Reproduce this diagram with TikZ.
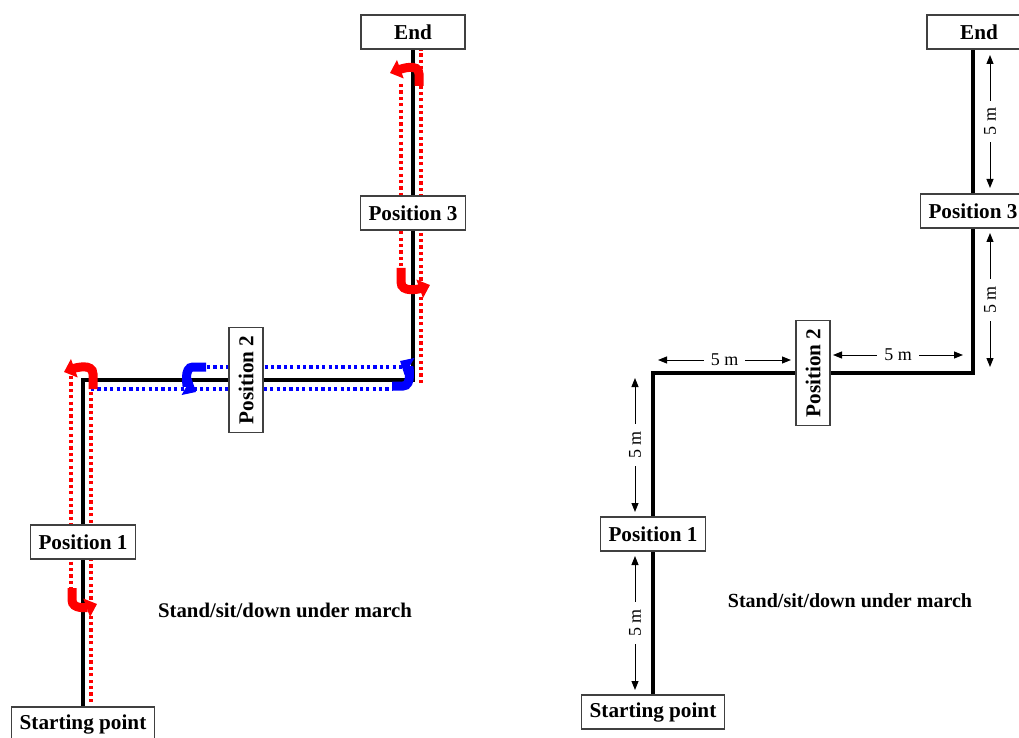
\documentclass[tikz,border=0pt]{standalone}
\usepackage{fontspec}
\setmainfont{Liberation Serif}
\usetikzlibrary{arrows.meta}

\begin{document}
\begin{tikzpicture}[x=0.5pt,y=-0.5pt,>={Triangle[length=4.5pt,width=3.5pt]},
        box/.style={draw=black!75,fill=white,line width=.6pt,minimum height=17pt,minimum width=52pt,inner xsep=4pt,font=\fontsize{10.6}{12}\selectfont\bfseries},
        track/.style={line width=2pt},
        reddot/.style={red,line width=1.6pt,dash pattern=on 1.6pt off 1.6pt},
        bluedot/.style={blue,line width=1.6pt,dash pattern=on 1.6pt off 1.6pt},
        uturn/.style={line width=4.5pt,-{Triangle[length=5.5pt,width=9.5pt]}},
        dim/.style={<->,line width=.5pt},
        dimlabel/.style={fill=white,inner xsep=3.5pt,inner ysep=1pt,font=\fontsize{9}{10}\selectfont}]
        \useasboundingbox (0,0) rectangle (1019,738);

        % walking lines (left)
        \draw[reddot] (71,376)--(71,590);
        \draw[reddot] (91,702)--(91,389);
        \draw[bluedot] (91,389)--(393,389);
        \draw[bluedot] (207,367)--(405,367);
        \draw[reddot] (421,383)--(421,50);
        \draw[reddot] (401,84)--(401,268);

        % left layout
        \node[box] (s1) at (83,724) {Starting point};
        \node[box] (p1) at (83,542) {Position 1};
        \node[box,rotate=90] (p2) at (246,380) {Position 2};
        \node[box] (p3) at (413,213) {Position 3};
        \node[box] (e1) at (413,32) {End};
        \coordinate (c1) at (83,380);
        \coordinate (c2) at (413,380);
        \draw[track] (s1)--(p1)--(c1)--(p2)--(c2)--(p3)--(e1);
        \node[font=\fontsize{10.4}{12}\selectfont\bfseries] (m1) at (285,610) {Stand/sit/down under march};

        % turns
        \draw[uturn,red] (72,588)--(72,600) to[out=-90,in=200] (97,604);
        \draw[uturn,red] (93,389)--(93,374) to[out=90,in=20] (64,372);
        \draw[uturn,red] (419,86)--(419,74) to[out=90,in=20] (390,73);
        \draw[uturn,red] (401,268)--(401,282) to[out=-90,in=200] (430,285);
        \draw[uturn,blue] (206,367)--(193,367) to[out=180,in=150] (196,392);
        \draw[uturn,blue] (392,386)--(403,386) to[out=0,in=-30] (400,361);

        % right layout
        \node[box] (s2) at (653,712) {Starting point};
        \node[box] (p1r) at (653,534) {Position 1};
        \node[box,rotate=90] (p2r) at (813,373) {Position 2};
        \node[box] (p3r) at (973,211) {Position 3};
        \node[box] (e2) at (979,32) {End};
        \coordinate (c3) at (653,373);
        \coordinate (c4) at (973,373);
        \draw[track] (s2)--(p1r)--(c3)--(p2r)--(c4)--(p3r)--(p3r|-e2.south);
        \node[font=\fontsize{10}{12}\selectfont\bfseries] (m2) at (850,601) {Stand/sit/down under march};

        % distances
        \foreach \x/\ya/\yb in {990/55/188,990/233/367,635/378/512,635/556/690}
        {
            \draw[dim] (\x,\ya)--node[dimlabel,rotate=90]{5 m}(\x,\yb);
        }
        \foreach \y/\xa/\xb in {360/658/791,355/833/963}
        {
            \draw[dim] (\xa,\y)--node[dimlabel]{5 m}(\xb,\y);
        }
    \end{tikzpicture}
\end{document}
